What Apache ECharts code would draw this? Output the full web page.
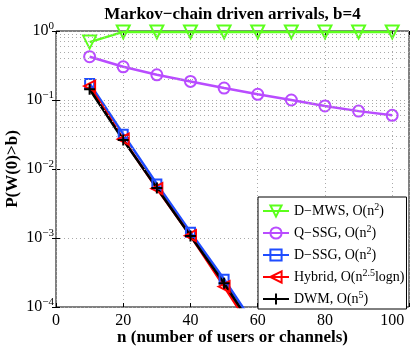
<!DOCTYPE html>
<html>
<head>
<meta charset="utf-8">
<script src="https://cdn.jsdelivr.net/npm/echarts@6/dist/echarts.min.js"></script>
<style>
  html, body { margin: 0; padding: 0; background: #fff; }
  #chart { width: 415px; height: 346px; }
</style>
</head>
<body>
<div id="chart"></div>
<script>
// data
const users = [10, 20, 30, 40, 50, 60, 70, 80, 90, 100];
const dMws = [0.69, 0.97, 0.97, 0.97, 0.97, 0.97, 0.97, 0.97, 0.97, 0.97];
const qSsg = [0.424, 0.303, 0.232, 0.186, 0.149, 0.121, 0.100, 0.082, 0.069, 0.060];
const dSsg = [0.174, 0.032, 0.00605, 0.00121, 0.000253, 0.000047, 0.0000095];
const hybrid = [0.159, 0.027, 0.0052, 0.00108, 0.000198, 0.000035, 0.000006];
const dwm = [0.143, 0.0263, 0.0053, 0.00107, 0.000221, 0.00004, 0.000008];

const names = ['D\u2212MWS, O(n2)', 'Q\u2212SSG, O(n2)', 'D\u2212SSG, O(n2)', 'Hybrid, O(n2.5logn)', 'DWM, O(n5)'];
const legendText = {
    'D\u2212MWS, O(n2)': 'D\u2212MWS, O(n{s|2})',
    'Q\u2212SSG, O(n2)': 'Q\u2212SSG, O(n{s|2})',
    'D\u2212SSG, O(n2)': 'D\u2212SSG, O(n{s|2})',
    'Hybrid, O(n2.5logn)': 'Hybrid, O(n{s|2.5}logn)',
    'DWM, O(n5)': 'DWM, O(n{s|5})'
};

// minor grid values 2..9 x 10^k
const minorTicks = [];
for (let k = -4; k < 0; k++) {
    for (let m = 2; m <= 9; m++) minorTicks.push(m * Math.pow(10, k));
}

const font = 'Liberation Serif';
const pair = (ys) => ys.map((y, i) => [users[i], y]);

const mk = (name, ys, col, symbol, size, rotate) => ({
    name: name,
    type: 'line',
    data: pair(ys),
    color: col,
    symbol: symbol,
    symbolSize: size,
    symbolRotate: rotate || 0,
    showAllSymbol: true,
    lineStyle: { color: col, width: 2.5 },
    itemStyle: { color: 'rgba(255,255,255,0)', borderColor: col, borderWidth: 2 },
    z: 3
});

const myChart = echarts.init(document.getElementById('chart'));
const option = {
    animation: false,
    grid: { left: 56, right: 6, top: 31, bottom: 39, show: true, borderColor: '#000', borderWidth: 1,
        outerBoundsMode: 'none' },
    xAxis: [
        {
            type: 'value', min: 0, max: 105, interval: 20,
            name: 'n (number of users or channels)',
            nameLocation: 'middle', nameGap: 22, nameMoveOverlap: false,
            nameTextStyle: { fontFamily: font, fontSize: 17, fontWeight: 'bold', color: '#000' },
            axisLine: { show: false },
            axisTick: { inside: true, length: 4, lineStyle: { color: '#000' } },
            axisLabel: { fontFamily: font, fontSize: 16, color: '#000', margin: 6,
                formatter: v => (v % 20 === 0 && v <= 100) ? String(v) : '' },
            splitLine: { show: true, lineStyle: { type: [1, 3], color: '#aaa' } }
        },
        {
            type: 'value', min: 0, max: 105, interval: 20, position: 'top',
            name: 'Markov\u2212chain driven arrivals, b=4',
            nameLocation: 'middle', nameGap: 8, nameMoveOverlap: false,
            nameTextStyle: { fontFamily: font, fontSize: 17, fontWeight: 'bold', color: '#000' },
            axisLine: { show: false },
            axisTick: { inside: true, length: 4, lineStyle: { color: '#000' } },
            axisLabel: { show: false },
            splitLine: { show: false }
        }
    ],
    yAxis: [
        {
            type: 'log', min: 1e-4, max: 1, logBase: 10,
            name: 'P(W(0)>b)',
            nameLocation: 'middle', nameGap: 35, nameMoveOverlap: false,
            nameTextStyle: { fontFamily: font, fontSize: 17, fontWeight: 'bold', color: '#000' },
            axisLine: { show: false },
            axisTick: { inside: true, length: 4, lineStyle: { color: '#000' } },
            axisLabel: {
                fontFamily: font, fontSize: 16, color: '#000', margin: 2,
                formatter: v => {
                    const e = Math.round(Math.log10(v));
                    return '{b|10}{s|' + (e < 0 ? '\u2212' + (-e) : e) + '}';
                },
                rich: {
                    b: { fontFamily: font, fontSize: 16, color: '#000' },
                    s: { fontFamily: font, fontSize: 11, color: '#000', verticalAlign: 'top', padding: [0, 0, 9, 0] }
                }
            },
            splitLine: { show: true, lineStyle: { type: [1, 3], color: '#aaa' } }
        },
        {
            type: 'log', min: 1e-4, max: 1, logBase: 10, position: 'right',
            axisLine: { show: false },
            axisTick: { inside: true, length: 4, lineStyle: { color: '#000' } },
            axisLabel: { show: false },
            splitLine: { show: false }
        }
    ],
    legend: {
        data: names,
        orient: 'vertical',
        left: 258, top: 197,
        backgroundColor: '#fff',
        borderColor: '#000', borderWidth: 1,
        padding: [5, 2, 3, 4],
        itemGap: 6, itemWidth: 26, itemHeight: 14,
        formatter: n => legendText[n],
        textStyle: {
            fontFamily: font, fontSize: 14, color: '#000',
            rich: {
                s: { fontFamily: font, fontSize: 10, color: '#000', verticalAlign: 'top', padding: [0, 0, 8, 0] }
            }
        }
    },
    series: [
        {
            name: 'grid', type: 'line', data: [], z: 1, silent: true,
            markLine: {
                silent: true, symbol: 'none', label: { show: false },
                lineStyle: { type: [1, 3], color: '#aaa', width: 1 },
                data: minorTicks.map(v => ({ yAxis: v }))
            }
        },
        mk(names[0], dMws, '#5cff1c', 'triangle', 13, 180),
        mk(names[1], qSsg, '#b94cff', 'circle', 11),
        mk(names[2], dSsg, '#1f4dff', 'rect', 9),
        mk(names[3], hybrid, '#ff0000', 'triangle', 11, 90),
        mk(names[4], dwm, '#000000', 'path://M5,0L5,10M0,5L10,5', 11)
    ]
};
myChart.setOption(option);
</script>
</body>
</html>
